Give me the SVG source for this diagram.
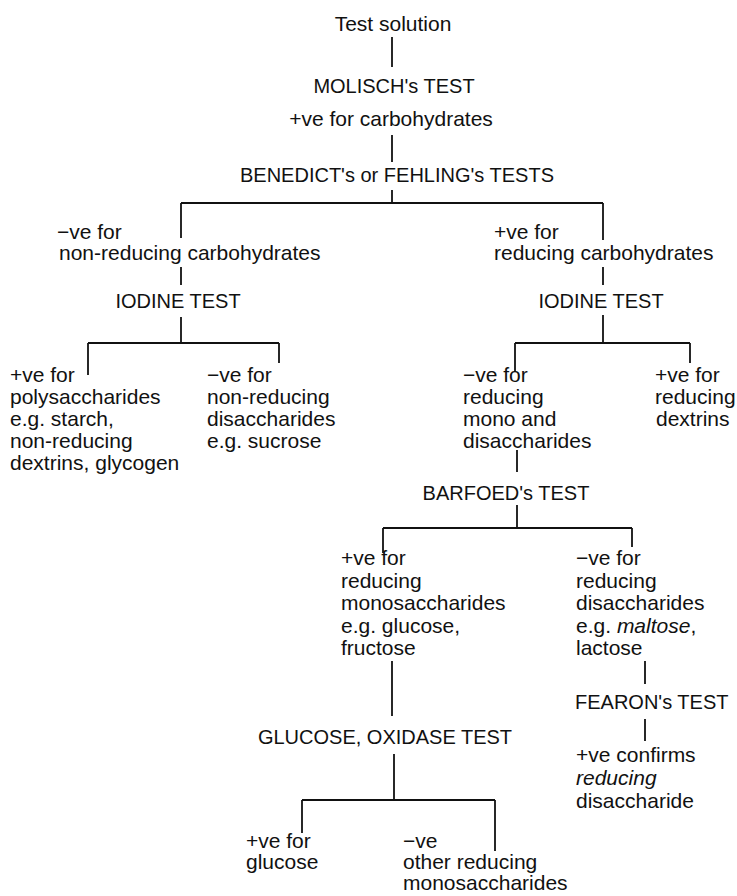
<svg xmlns="http://www.w3.org/2000/svg" width="737" height="896" viewBox="0 0 737 896">
<style>
text{font-family:"Liberation Sans",Arial,Helvetica,sans-serif;fill:#111;}
.h{font-size:20px;}
.t{font-size:21px;}
.c{text-anchor:middle;}
.i{font-style:italic;}
#connectors line{stroke:#111;stroke-width:1.8;fill:none;}
</style>
<rect width="737" height="896" fill="#fff"/>
<g id="connectors">
<line x1="392" y1="37" x2="392" y2="67"/>
<line x1="392" y1="135" x2="392" y2="162"/>
<line x1="392" y1="190" x2="392" y2="203"/>
<line x1="181" y1="203" x2="603" y2="203"/>
<line x1="181" y1="203" x2="181" y2="238"/>
<line x1="603" y1="203" x2="603" y2="240"/>
<line x1="181" y1="267" x2="181" y2="285"/>
<line x1="603" y1="267" x2="603" y2="285"/>
<line x1="181" y1="317" x2="181" y2="343"/>
<line x1="88" y1="343" x2="279" y2="343"/>
<line x1="88" y1="343" x2="88" y2="375"/>
<line x1="279" y1="343" x2="279" y2="363"/>
<line x1="603" y1="315" x2="603" y2="343"/>
<line x1="515" y1="343" x2="690" y2="343"/>
<line x1="515" y1="343" x2="515" y2="372"/>
<line x1="690" y1="343" x2="690" y2="363"/>
<line x1="517" y1="450" x2="517" y2="472"/>
<line x1="517" y1="505" x2="517" y2="528"/>
<line x1="383" y1="528" x2="632" y2="528"/>
<line x1="383" y1="528" x2="383" y2="553"/>
<line x1="632" y1="528" x2="632" y2="547"/>
<line x1="392" y1="661" x2="392" y2="716"/>
<line x1="394" y1="754" x2="394" y2="800"/>
<line x1="302" y1="800" x2="495" y2="800"/>
<line x1="302" y1="800" x2="302" y2="833"/>
<line x1="495" y1="800" x2="495" y2="851"/>
<line x1="645" y1="661" x2="645" y2="684"/>
<line x1="645" y1="719" x2="645" y2="741"/>
</g>
<g id="test-solution"><text class="t c" x="393" y="31">Test solution</text></g>
<g id="molisch"><text class="h c" x="394" y="93">MOLISCH's TEST</text></g>
<g id="pos-carbohydrates"><text class="t c" x="391" y="126">+ve for carbohydrates</text></g>
<g id="benedict"><text class="h c" x="397" y="182">BENEDICT's or FEHLING's TESTS</text></g>
<g id="neg-nonreducing">
<text class="t" x="57" y="239">−ve for</text>
<text class="t" x="59" y="260">non-reducing carbohydrates</text>
</g>
<g id="pos-reducing">
<text class="t" x="494" y="239">+ve for</text>
<text class="t" x="494" y="260">reducing carbohydrates</text>
</g>
<g id="iodine-left"><text class="h c" x="178" y="308">IODINE TEST</text></g>
<g id="iodine-right"><text class="h c" x="601" y="308">IODINE TEST</text></g>
<g id="pos-polysaccharides">
<text class="t" x="10" y="382">+ve for</text>
<text class="t" x="10" y="404">polysaccharides</text>
<text class="t" x="10" y="426">e.g. starch,</text>
<text class="t" x="10" y="448">non-reducing</text>
<text class="t" x="10" y="470">dextrins, glycogen</text>
</g>
<g id="neg-nonreducing-di">
<text class="t" x="207" y="382">−ve for</text>
<text class="t" x="207" y="404">non-reducing</text>
<text class="t" x="207" y="426">disaccharides</text>
<text class="t" x="207" y="448">e.g. sucrose</text>
</g>
<g id="neg-reducing-monodi">
<text class="t" x="463" y="382">−ve for</text>
<text class="t" x="463" y="404">reducing</text>
<text class="t" x="463" y="426">mono and</text>
<text class="t" x="463" y="448">disaccharides</text>
</g>
<g id="pos-dextrins">
<text class="t" x="655" y="382">+ve for</text>
<text class="t" x="655" y="404">reducing</text>
<text class="t" x="656" y="426">dextrins</text>
</g>
<g id="barfoed"><text class="h c" x="506" y="500">BARFOED's TEST</text></g>
<g id="pos-mono">
<text class="t" x="341" y="565">+ve for</text>
<text class="t" x="341" y="588">reducing</text>
<text class="t" x="341" y="610">monosaccharides</text>
<text class="t" x="341" y="633">e.g. glucose,</text>
<text class="t" x="341" y="655">fructose</text>
</g>
<g id="neg-di">
<text class="t" x="576" y="565">−ve for</text>
<text class="t" x="576" y="588">reducing</text>
<text class="t" x="576" y="610">disaccharides</text>
<text class="t" x="576" y="633">e.g. <tspan class="i">maltose</tspan>,</text>
<text class="t" x="576" y="655">lactose</text>
</g>
<g id="glucose-oxidase"><text class="h c" x="385" y="744">GLUCOSE, OXIDASE TEST</text></g>
<g id="fearon"><text class="h" x="575" y="709">FEARON's TEST</text></g>
<g id="pos-confirms">
<text class="t" x="576" y="762">+ve confirms</text>
<text class="t i" x="576" y="785">reducing</text>
<text class="t" x="576" y="808">disaccharide</text>
</g>
<g id="pos-glucose">
<text class="t" x="246" y="848">+ve for</text>
<text class="t" x="246" y="869">glucose</text>
</g>
<g id="neg-other">
<text class="t" x="403" y="848">−ve</text>
<text class="t" x="403" y="869">other reducing</text>
<text class="t" x="403" y="890">monosaccharides</text>
</g>
</svg>
